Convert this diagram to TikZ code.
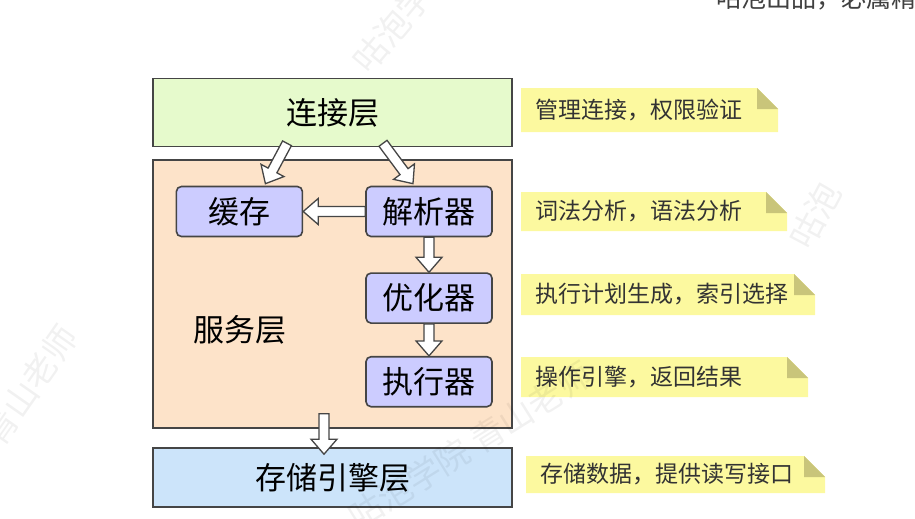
\documentclass[tikz,border=0pt]{standalone}
\usepackage{fontspec}
\setmainfont{Noto Sans CJK SC}
\usetikzlibrary{positioning,calc}

\definecolor{conngreen}{HTML}{E6FACC}
\definecolor{servpeach}{HTML}{FDE3C9}
\definecolor{modlilac}{HTML}{CCCCFF}
\definecolor{storeblue}{HTML}{CCE4FA}
\definecolor{noteyellow}{HTML}{FCF99F}
\definecolor{notefold}{HTML}{C9C57A}
\definecolor{edgegray}{HTML}{454545}

\tikzset{
		layer/.style={draw=edgegray, line width=1.6pt, minimum width=359pt, inner sep=0pt, font=\fontsize{31}{31}\selectfont},
		module/.style={draw=edgegray, line width=1.6pt, rounded corners=5pt, fill=modlilac, minimum width=126pt, minimum height=50pt, inner sep=0pt, font=\fontsize{31}{31}\selectfont},
		fatarrow/.style={draw=edgegray, line width=1.3pt, fill=white, line join=miter},
		notetext/.style={anchor=west, inner sep=0pt, text=black!80, font=\fontsize{23}{23}\selectfont},
		watermark/.style={text=black, opacity=0.055, font=\fontsize{34}{34}\selectfont}
	}

% hollow block arrow from #1 to #2
\newcommand{\fatarrow}[2]{%
	\draw[fatarrow] let \p1=#1, \p2=#2, \n1={atan2(\y2-\y1,\x2-\x1)}, \n2={veclen(\x2-\x1,\y2-\y1)} in
		{[shift={(\p1)}, rotate=\n1] (0,-5) -- ({\n2-15},-5) -- ({\n2-15},-13) -- (\n2,0) -- ({\n2-15},13) -- ({\n2-15},5) -- (0,5) -- cycle};
}

% sticky note: name, left, top, right, bottom, text
\newcommand{\sticky}[6]{%
	\fill[noteyellow] (#2,#3) -- ({#4-21},#3) -- (#4,{#3+21}) -- (#4,#5) -- (#2,#5) -- cycle;
	\fill[notefold] ({#4-21},#3) -- ({#4-21},{#3+21}) -- (#4,{#3+21}) -- cycle;
	\node[notetext] (#1) at ({#2+14},{(#3+#5)/2}) {#6};
}

\begin{document}
\begin{tikzpicture}[x=1pt, y=-1pt]
				\useasboundingbox (0,0) rectangle (915,519);
				\clip (0,0) rectangle (915,519);

				\node[layer, fill=conngreen, minimum height=68pt] (conn) at (332.5,112.5) {连接层};
				\node[layer, fill=servpeach, minimum height=268pt] (serv) at (332.5,294) {};
				\node[layer, fill=storeblue, minimum height=59pt, text width=341pt, align=center] (store) at (332.5,477.5) {存储引擎层};
				\node[font=\fontsize{31}{31}\selectfont] (servlabel) at (240,330) {服务层};

				\node[module] (parser) at (429,211.5) {解析器};
				\node[module, left=62pt of parser] (cache) {缓存};
				\node[module, below=35pt of parser] (optimizer) {优化器};
				\node[module, below=32pt of optimizer] (executor) {执行器};

				\coordinate (conncache) at ($(conn.south)+(-45.5,-4)$);
				\coordinate (cachetop) at ($(cache.north)+(26,-2)$);
				\coordinate (connparser) at ($(conn.south)+(50.5,-4)$);
				\coordinate (parsertop) at ($(parser.north)+(-16,-2)$);
				\coordinate (servout) at ($(serv.south)+(-8.5,-15)$);
				\coordinate (storein) at ($(store.north)+(-8.5,7)$);

				\fatarrow{(conncache)}{(cachetop)}
				\fatarrow{(connparser)}{(parsertop)}
				\fatarrow{(parser.west)}{(cache.east)}
				\fatarrow{(parser.south)}{(optimizer.north)}
				\fatarrow{(optimizer.south)}{(executor.north)}
				\fatarrow{(servout)}{(storein)}

				\sticky{noteconn}{521}{88}{778}{132}{管理连接，权限验证}
				\sticky{noteparser}{521}{192}{787}{231}{词法分析，语法分析}
				\sticky{noteoptimizer}{521}{274}{815}{315}{执行计划生成，索引选择}
				\sticky{noteexecutor}{521}{357}{808}{397}{操作引擎，返回结果}
				\sticky{notestore}{526}{456}{825}{493}{存储数据，提供读写接口}

				\node[anchor=base west, inner sep=0pt, text=black!75, font=\fontsize{25}{25}\selectfont] (brand) at (716,8) {咕泡出品，必属精品};

				\node[watermark, rotate=50] (wmtop) at (392,28) {咕泡学};
				\node[watermark, rotate=55] (wmleft) at (30,385) {青山老师};
				\node[watermark, rotate=32] (wmbottom) at (470,445) {咕泡学院\ 青山老师};
				\node[watermark, rotate=62] (wmright) at (815,215) {咕泡};
			\end{tikzpicture}
\end{document}
